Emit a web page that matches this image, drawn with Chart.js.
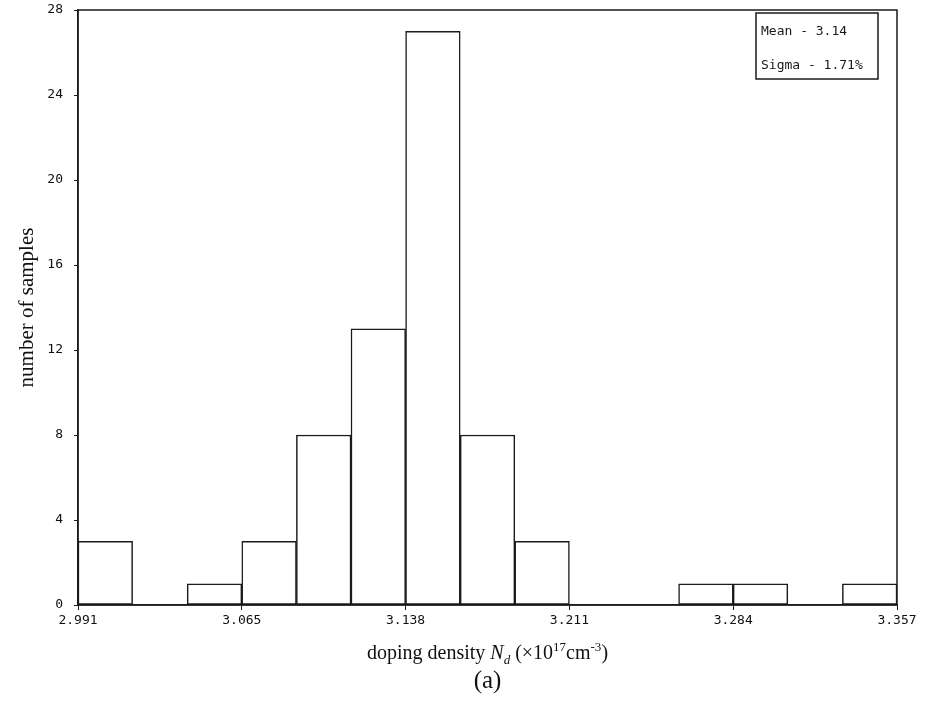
<!DOCTYPE html>
<html>
<head>
<meta charset="utf-8">
<script src="https://cdn.jsdelivr.net/npm/chart.js@4.4.1/dist/chart.umd.min.js"></script>
<style>
  html, body { margin: 0; padding: 0; background: #fff; }
  #wrap { position: relative; width: 927px; height: 704px; }
  #grafico { position: absolute; left: 0; top: 0; }
  .titulo-x { position: absolute; left: 0; width: 975px; top: 635px; text-align: center;
    font-family: "Liberation Serif", "DejaVu Serif", serif; font-size: 20px; color: #111; line-height: 24px; }
  .titulo-x sub, .titulo-x sup { font-size: 13px; }
  .rotulo { position: absolute; left: 0; width: 975px; top: 665px; text-align: center;
    font-family: "Liberation Serif", "DejaVu Serif", serif; font-size: 25px; color: #111; line-height: 30px; }
</style>
</head>
<body>
<div id="wrap">
  <canvas id="grafico" width="927" height="704"></canvas>
  <div class="titulo-x">doping density <i>N<sub>d</sub></i> (×10<sup>17</sup>cm<sup>-3</sup>)</div>
  <div class="rotulo">(a)</div>
</div>
<script>
// dados do histograma (15 classes)
const contagens = [3, 0, 1, 3, 8, 13, 27, 8, 3, 0, 0, 1, 1, 0, 1];
const classes = contagens.map((c, i) => 'bin' + (i + 1));
// rótulos nas bordas das classes, a cada 3 classes
const rotulosX = ['2.991', '3.065', '3.138', '3.211', '3.284', '3.357'];
const ticksY = [0, 4, 8, 12, 16, 20, 24, 28];
const textoCaixa = ['Mean - 3.14', 'Sigma - 1.71%'];

const fonteMono = '"DejaVu Sans Mono", "Liberation Mono", monospace';
const corTraco = '#1a1a1a';

const molduraPlugin = {
    id: 'moldura',
    afterDraw(chart) {
        const { ctx, chartArea: a } = chart;
        ctx.save();
        ctx.strokeStyle = corTraco;
        ctx.lineWidth = 1.5;
        ctx.strokeRect(a.left, a.top, a.right - a.left, a.bottom - a.top);

        // caixa com média e sigma
        const bx = a.right - 141, by = a.top + 3, bw = 122, bh = 66;
        ctx.strokeRect(bx, by, bw, bh);
        ctx.fillStyle = corTraco;
        ctx.font = '13px ' + fonteMono;
        ctx.textBaseline = 'middle';
        ctx.textAlign = 'left';
        ctx.fillText(textoCaixa[0], bx + 5, by + 19);
        ctx.fillText(textoCaixa[1], bx + 5, by + 53);
        ctx.restore();
    }
};

const ctx = document.getElementById('grafico').getContext('2d');
new Chart(ctx, {
    type: 'bar',
    data: {
        labels: classes,
        datasets: [{
            data: contagens,
            backgroundColor: '#ffffff',
            borderColor: corTraco,
            borderWidth: 1.5,
            borderSkipped: false,
            barPercentage: 1,
            categoryPercentage: 1,
            xAxisID: 'x'
        }]
    },
    options: {
        responsive: false,
        animation: false,
        layout: { padding: { top: 10, right: 30, left: 0, bottom: 0 } },
        plugins: { legend: { display: false }, tooltip: { enabled: false } },
        scales: {
            x: { display: false },
            xt: {
                type: 'linear',
                position: 'bottom',
                min: 0,
                max: contagens.length,
                offset: false,
                afterBuildTicks: (s) => { s.ticks = rotulosX.map((r, i) => ({ value: i * 3 })); },
                afterFit: (s) => { s.height = 99; },
                grid: { offset: false, drawOnChartArea: false, drawTicks: true, tickLength: 5, color: corTraco },
                border: { display: true, color: corTraco, width: 1.5 },
                ticks: {
                    padding: 3,
                    color: '#111',
                    font: { family: fonteMono, size: 13 },
                    maxRotation: 0,
                    autoSkip: false,
                    callback: (v) => rotulosX[Math.round(v / 3)]
                }
            },
            y: {
                min: 0,
                max: 28,
                afterBuildTicks: (s) => { s.ticks = ticksY.map(v => ({ value: v })); },
                afterFit: (s) => { s.width = 78; s.paddingTop = 0; s.paddingBottom = 0; },
                grid: { drawOnChartArea: false, drawTicks: true, tickLength: 4, color: corTraco },
                border: { display: true, color: corTraco, width: 1.5 },
                ticks: {
                    padding: 11,
                    color: '#111',
                    font: { family: fonteMono, size: 13 }
                },
                title: {
                    display: true,
                    text: 'number of samples',
                    color: '#111',
                    font: { family: '"Liberation Serif", "DejaVu Serif", serif', size: 21 },
                    padding: { top: 15, bottom: 0 }
                }
            }
        }
    },
    plugins: [molduraPlugin]
});
</script>
</body>
</html>
